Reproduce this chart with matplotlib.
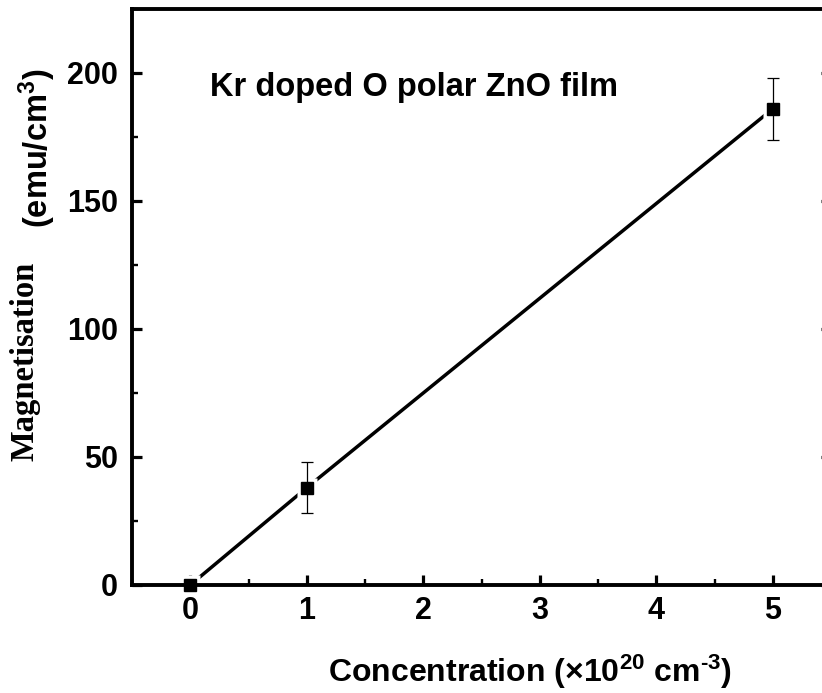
import matplotlib
matplotlib.use("Agg")
import matplotlib.pyplot as plt
from matplotlib.ticker import MultipleLocator

# Kr concentration (x10^20 cm^-3) and measured magnetisation (emu/cm^3)
concentration = [0, 1, 5]
magnetisation = [0, 38, 186]
mag_error = [0, 10, 12]

x_ticks = [0, 1, 2, 3, 4, 5]
y_ticks = [0, 50, 100, 150, 200]

plt.rcParams["font.family"] = ["Liberation Sans", "DejaVu Sans"]
plt.rcParams["font.weight"] = "bold"
plt.rcParams["mathtext.fontset"] = "custom"
plt.rcParams["mathtext.rm"] = "Liberation Sans:bold"
plt.rcParams["mathtext.it"] = "Liberation Sans:bold"
plt.rcParams["mathtext.bf"] = "Liberation Sans:bold"
plt.rcParams["mathtext.default"] = "rm"

W, H = 822, 693
fig = plt.figure(figsize=(W / 100, H / 100), dpi=100)

# axes box; right spine sits just outside the canvas
left_px, right_px, top_px, bottom_px = 132, 831, 9, 585
ax = fig.add_axes([left_px / W, 1 - bottom_px / H,
                   (right_px - left_px) / W, (bottom_px - top_px) / H])

ax.set_xlim(-0.5, 5.5)
ax.set_ylim(0, 225)

# connecting line, with small white gaps around each marker
ax.plot(concentration, magnetisation, color="black", lw=2.5, zorder=2,
        solid_capstyle="butt")
ax.plot(concentration, magnetisation, ls="none", marker="s", ms=15,
        mfc="white", mec="none", zorder=2.2, clip_on=False)
ax.errorbar(concentration[1:], magnetisation[1:], yerr=mag_error[1:],
            fmt="none", ecolor="black", elinewidth=0.9, capsize=4.5,
            capthick=0.9, zorder=3)
ax.plot(concentration, magnetisation, ls="none", marker="s", ms=8.5,
        mfc="black", mec="black", zorder=3.5, clip_on=False)

for side in ["left", "right", "top", "bottom"]:
    ax.spines[side].set_linewidth(2.8)
    ax.spines[side].set_zorder(2.6)

ax.set_xticks(x_ticks)
ax.set_yticks(y_ticks)
ax.xaxis.set_minor_locator(MultipleLocator(0.5))
ax.yaxis.set_minor_locator(MultipleLocator(25))

ax.tick_params(axis="both", which="major", direction="in", length=7.5,
               width=2.3, labelsize=22, pad=8)
ax.tick_params(axis="both", which="minor", direction="in", length=4,
               width=1.7)
ax.tick_params(axis="y", which="major", right=True, labelright=False)
ax.tick_params(axis="y", which="minor", right=False)
ax.tick_params(axis="x", which="both", top=False)
ax.tick_params(axis="y", which="major", pad=10)
for lab in ax.get_xticklabels() + ax.get_yticklabels():
    lab.set_fontweight("bold")

ax.text(0.112, 0.863, "Kr doped O polar ZnO film", transform=ax.transAxes,
        fontsize=23.5, fontweight="bold", ha="left", va="center")

# axis titles
fig.text(530 / W, 1 - 682 / H,
         r"Concentration (×10$^{20}$ cm$^{\text{-3}}$)",
         fontsize=23, fontweight="bold", ha="center", va="baseline")
fig.text(25 / W, 1 - 361 / H, "Magnetisation", rotation=90,
         family=["Liberation Serif", "DejaVu Serif"], fontsize=23.5,
         fontweight="bold", ha="center", va="center")
fig.text(37 / W, 1 - 148 / H, r"(emu/cm$^{3}$)", rotation=90,
         fontsize=23.5, fontweight="bold", ha="center", va="center")

fig.savefig("out.png", dpi=100)
